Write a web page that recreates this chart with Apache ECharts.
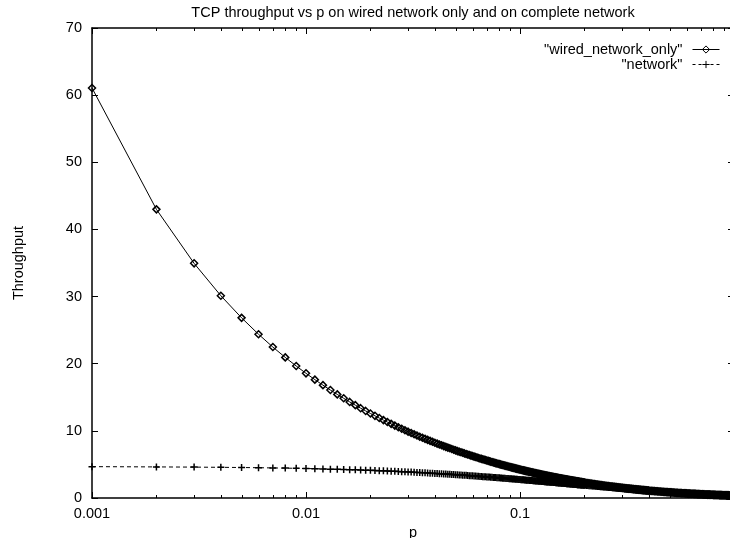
<!DOCTYPE html>
<html>
<head>
<meta charset="utf-8">
<script src="https://cdn.jsdelivr.net/npm/echarts@6/dist/echarts.min.js"></script>
<style>
html,body{margin:0;padding:0;background:#fff;}
#chart{width:730px;height:538px;}
</style>
</head>
<body>
<div id="chart"></div>
<script>
// ---- data ----
const pValues = [
0.001,0.002,0.003,0.004,0.005,0.006,0.007,0.008,0.009,0.010,
0.011,0.012,0.013,0.014,0.015,0.016,0.017,0.018,0.019,0.020,
0.021,0.022,0.023,0.024,0.025,0.026,0.027,0.028,0.029,0.030,
0.031,0.032,0.033,0.034,0.035,0.036,0.037,0.038,0.039,0.040,
0.041,0.042,0.043,0.044,0.045,0.046,0.047,0.048,0.049,0.050,
0.051,0.052,0.053,0.054,0.055,0.056,0.057,0.058,0.059,0.060,
0.061,0.062,0.063,0.064,0.065,0.066,0.067,0.068,0.069,0.070,
0.071,0.072,0.073,0.074,0.075,0.076,0.077,0.078,0.079,0.080,
0.081,0.082,0.083,0.084,0.085,0.086,0.087,0.088,0.089,0.090,
0.091,0.092,0.093,0.094,0.095,0.096,0.097,0.098,0.099,0.100,
0.101,0.102,0.103,0.104,0.105,0.106,0.107,0.108,0.109,0.110,
0.111,0.112,0.113,0.114,0.115,0.116,0.117,0.118,0.119,0.120,
0.121,0.122,0.123,0.124,0.125,0.126,0.127,0.128,0.129,0.130,
0.131,0.132,0.133,0.134,0.135,0.136,0.137,0.138,0.139,0.140,
0.141,0.142,0.143,0.144,0.145,0.146,0.147,0.148,0.149,0.150,
0.151,0.152,0.153,0.154,0.155,0.156,0.157,0.158,0.159,0.160,
0.161,0.162,0.163,0.164,0.165,0.166,0.167,0.168,0.169,0.170,
0.171,0.172,0.173,0.174,0.175,0.176,0.177,0.178,0.179,0.180,
0.181,0.182,0.183,0.184,0.185,0.186,0.187,0.188,0.189,0.190,
0.191,0.192,0.193,0.194,0.195,0.196,0.197,0.198,0.199,0.200,
0.2025,0.2050,0.2075,0.2100,0.2125,0.2150,0.2175,0.2200,0.2225,0.2250,
0.2275,0.2300,0.2325,0.2350,0.2375,0.2400,0.2425,0.2450,0.2475,0.2500,
0.2525,0.2550,0.2575,0.2600,0.2625,0.2650,0.2675,0.2700,0.2725,0.2750,
0.2775,0.2800,0.2825,0.2850,0.2875,0.2900,0.2925,0.2950,0.2975,0.3000,
0.3025,0.3050,0.3075,0.3100,0.3125,0.3150,0.3175,0.3200,0.3225,0.3250,
0.3275,0.3300,0.3325,0.3350,0.3375,0.3400,0.3425,0.3450,0.3475,0.3500,
0.3525,0.3550,0.3575,0.3600,0.3625,0.3650,0.3675,0.3700,0.3725,0.3750,
0.3775,0.3800,0.3825,0.3850,0.3875,0.3900,0.3925,0.3950,0.3975,0.4000,
0.405,0.410,0.415,0.420,0.425,0.430,0.435,0.440,0.445,0.450,
0.455,0.460,0.465,0.470,0.475,0.480,0.485,0.490,0.495,0.500,
0.505,0.510,0.515,0.520,0.525,0.530,0.535,0.540,0.545,0.550,
0.555,0.560,0.565,0.570,0.575,0.580,0.585,0.590,0.595,0.600,
0.605,0.610,0.615,0.620,0.625,0.630,0.635,0.640,0.645,0.650,
0.655,0.660,0.665,0.670,0.675,0.680,0.685,0.690,0.695,0.700,
0.705,0.710,0.715,0.720,0.725,0.730,0.735,0.740,0.745,0.750,
0.755,0.760,0.765,0.770,0.775,0.780,0.785,0.790,0.795,0.800,
0.805,0.810,0.815,0.820,0.825,0.830,0.835,0.840,0.845,0.850,
0.855,0.860,0.865,0.870,0.875,0.880,0.885,0.890,0.895,0.900,
0.905,0.910,0.915,0.920,0.925,0.930,0.935,0.940,0.945,0.950,
0.955,0.960,0.965,0.970,0.975,0.980,0.985,0.990,0.995,1.000
];

const wiredOnly = [
61.07,42.99,34.95,30.13,26.83,24.39,22.48,20.94,19.66,18.57,
17.63,16.81,16.08,15.43,14.85,14.31,13.83,13.38,12.97,12.59,
12.24,11.91,11.60,11.31,11.04,10.78,10.54,10.31,10.09,9.88,
9.68,9.49,9.31,9.13,8.97,8.81,8.66,8.51,8.37,8.23,
8.10,7.97,7.85,7.73,7.62,7.50,7.40,7.29,7.19,7.09,
6.99,6.90,6.81,6.73,6.64,6.56,6.48,6.40,6.32,6.25,
6.17,6.10,6.03,5.96,5.89,5.83,5.77,5.71,5.65,5.59,
5.53,5.47,5.41,5.36,5.30,5.25,5.20,5.15,5.10,5.05,
5.00,4.96,4.91,4.87,4.82,4.78,4.74,4.70,4.65,4.61,
4.57,4.53,4.49,4.46,4.42,4.38,4.34,4.31,4.27,4.24,
4.20,4.17,4.14,4.11,4.07,4.04,4.01,3.98,3.95,3.92,
3.89,3.87,3.84,3.81,3.78,3.75,3.72,3.70,3.67,3.65,
3.62,3.60,3.57,3.55,3.52,3.50,3.47,3.45,3.42,3.40,
3.38,3.36,3.33,3.31,3.29,3.27,3.25,3.23,3.21,3.19,
3.17,3.15,3.13,3.11,3.09,3.07,3.05,3.04,3.02,3.00,
2.98,2.96,2.94,2.93,2.91,2.90,2.88,2.86,2.84,2.83,
2.81,2.80,2.78,2.77,2.75,2.74,2.72,2.71,2.69,2.68,
2.66,2.65,2.63,2.62,2.60,2.59,2.57,2.56,2.55,2.54,
2.52,2.51,2.49,2.48,2.47,2.46,2.44,2.43,2.42,2.41,
2.39,2.38,2.37,2.36,2.35,2.34,2.32,2.31,2.30,2.29,
2.27,2.24,2.22,2.19,2.17,2.14,2.12,2.09,2.07,2.04,
2.02,2.00,1.98,1.95,1.93,1.91,1.89,1.87,1.85,1.83,
1.81,1.79,1.78,1.76,1.74,1.72,1.71,1.69,1.68,1.66,
1.65,1.63,1.62,1.60,1.59,1.57,1.56,1.54,1.53,1.51,
1.50,1.48,1.47,1.46,1.45,1.43,1.42,1.41,1.40,1.39,
1.38,1.37,1.36,1.34,1.33,1.32,1.31,1.30,1.29,1.28,
1.27,1.26,1.25,1.24,1.23,1.22,1.21,1.20,1.19,1.18,
1.18,1.17,1.16,1.15,1.14,1.13,1.12,1.11,1.11,1.10,
1.085,1.07,1.055,1.04,1.025,1.01,1.00,0.99,0.975,0.96,
0.95,0.94,0.925,0.91,0.90,0.89,0.88,0.87,0.86,0.85,
0.84,0.83,0.82,0.81,0.80,0.79,0.78,0.77,0.76,0.75,
0.745,0.74,0.73,0.72,0.715,0.71,0.70,0.69,0.685,0.68,
0.67,0.66,0.655,0.65,0.645,0.64,0.635,0.63,0.625,0.62,
0.615,0.61,0.60,0.59,0.585,0.58,0.575,0.57,0.565,0.56,
0.555,0.55,0.545,0.54,0.535,0.53,0.525,0.52,0.515,0.51,
0.51,0.51,0.505,0.50,0.495,0.49,0.485,0.48,0.475,0.47,
0.465,0.46,0.46,0.46,0.455,0.45,0.45,0.45,0.445,0.44,
0.435,0.43,0.425,0.42,0.42,0.42,0.415,0.41,0.41,0.41,
0.405,0.40,0.40,0.40,0.395,0.39,0.39,0.39,0.385,0.38,
0.375,0.37,0.37,0.37,0.365,0.36,0.36,0.36,0.355,0.35
];

const network = [
4.67,4.63,4.60,4.57,4.54,4.51,4.48,4.45,4.42,4.39,
4.36,4.33,4.30,4.28,4.25,4.22,4.20,4.17,4.14,4.12,
4.09,4.07,4.04,4.02,4.00,3.97,3.95,3.92,3.90,3.88,
3.86,3.83,3.81,3.79,3.77,3.75,3.73,3.70,3.68,3.66,
3.64,3.62,3.60,3.58,3.57,3.55,3.53,3.51,3.49,3.47,
3.45,3.44,3.42,3.40,3.38,3.37,3.35,3.33,3.31,3.30,
3.28,3.27,3.25,3.23,3.22,3.20,3.18,3.17,3.15,3.14,
3.12,3.11,3.09,3.08,3.06,3.05,3.04,3.03,3.01,3.00,
2.98,2.97,2.95,2.94,2.93,2.92,2.90,2.89,2.88,2.87,
2.85,2.84,2.83,2.82,2.80,2.79,2.78,2.77,2.75,2.74,
2.73,2.72,2.71,2.70,2.69,2.68,2.66,2.65,2.64,2.63,
2.62,2.61,2.60,2.59,2.58,2.57,2.56,2.55,2.54,2.53,
2.52,2.51,2.50,2.49,2.48,2.47,2.46,2.45,2.44,2.43,
2.42,2.41,2.40,2.40,2.39,2.38,2.37,2.36,2.35,2.34,
2.33,2.33,2.32,2.31,2.30,2.29,2.28,2.27,2.26,2.26,
2.25,2.24,2.23,2.23,2.22,2.21,2.20,2.20,2.19,2.18,
2.17,2.17,2.16,2.15,2.14,2.14,2.13,2.12,2.11,2.11,
2.10,2.09,2.08,2.08,2.07,2.06,2.05,2.05,2.04,2.03,
2.02,2.02,2.01,2.00,1.99,1.99,1.98,1.98,1.97,1.97,
1.96,1.95,1.94,1.94,1.93,1.93,1.92,1.92,1.91,1.90,
1.89,1.87,1.86,1.84,1.83,1.81,1.80,1.79,1.78,1.76,
1.75,1.73,1.72,1.70,1.69,1.68,1.67,1.65,1.64,1.63,
1.62,1.60,1.59,1.58,1.57,1.56,1.55,1.54,1.53,1.52,
1.51,1.50,1.49,1.48,1.47,1.46,1.45,1.44,1.43,1.42,
1.41,1.40,1.39,1.38,1.37,1.36,1.35,1.34,1.33,1.32,
1.32,1.31,1.30,1.29,1.28,1.27,1.26,1.25,1.25,1.24,
1.23,1.22,1.22,1.21,1.20,1.19,1.19,1.18,1.17,1.16,
1.16,1.15,1.14,1.13,1.13,1.12,1.11,1.10,1.10,1.09,
1.075,1.06,1.05,1.04,1.025,1.01,1.00,0.99,0.975,0.96,
0.95,0.94,0.93,0.92,0.91,0.90,0.89,0.88,0.87,0.86,
0.85,0.84,0.83,0.82,0.81,0.80,0.79,0.78,0.77,0.76,
0.755,0.75,0.74,0.73,0.725,0.72,0.71,0.70,0.695,0.69,
0.68,0.67,0.665,0.66,0.65,0.64,0.635,0.63,0.62,0.61,
0.605,0.60,0.595,0.59,0.585,0.58,0.57,0.56,0.555,0.55,
0.545,0.54,0.535,0.53,0.525,0.52,0.515,0.51,0.505,0.50,
0.495,0.49,0.485,0.48,0.475,0.47,0.465,0.46,0.455,0.45,
0.445,0.44,0.435,0.43,0.425,0.42,0.415,0.41,0.405,0.40,
0.40,0.40,0.395,0.39,0.385,0.38,0.375,0.37,0.37,0.37,
0.365,0.36,0.355,0.35,0.345,0.34,0.34,0.34,0.335,0.33,
0.33,0.33,0.325,0.32,0.315,0.31,0.305,0.30,0.30,0.30
];

const seriesNames = ['"wired_network_only"', '"network"'];
const titleText = 'TCP throughput vs p on wired network only and on complete network';
const xName = 'p';
const yName = 'Throughput';
const xRange = [0.001, 1];
const yRange = [0, 70];
const yStep = 10;
const minorTickValues = [
0.002,0.003,0.004,0.005,0.006,0.007,0.008,0.009,
0.02,0.03,0.04,0.05,0.06,0.07,0.08,0.09,
0.2,0.3,0.4,0.5,0.6,0.7,0.8,0.9
];

// ---- chart ----
const FONT = '"Liberation Sans", Arial, Helvetica, sans-serif';
const FS = 14.5;
const chart = echarts.init(document.getElementById('chart'), null, {renderer: 'canvas'});

const pairs = (ys) => pValues.map((p, i) => [p, ys[i]]);
const hollowMark = {color: 'rgba(0,0,0,0)', borderColor: '#000', borderWidth: 1.5};
const hollowLegend = {color: 'rgba(0,0,0,0)', borderColor: '#000', borderWidth: 1};

const baseX = {
  type: 'log', logBase: 10, min: xRange[0], max: xRange[1],
  axisLine: {show: true, onZero: false, lineStyle: {color: '#000', width: 1.5}},
  axisTick: {show: true, inside: true, length: 6, lineStyle: {color: '#000', width: 1}},
  splitLine: {show: false}, minorTick: {show: false}, minorSplitLine: {show: false}
};
const baseY = {
  type: 'value', min: yRange[0], max: yRange[1], interval: yStep,
  axisLine: {show: true, onZero: false, lineStyle: {color: '#000', width: 1.5}},
  axisTick: {show: true, inside: true, length: 6, lineStyle: {color: '#000', width: 1}},
  splitLine: {show: false}
};

chart.setOption({
  animation: false,
  backgroundColor: '#fff',
  textStyle: {fontFamily: FONT},
  title: {
    text: titleText, left: 413, top: 5, textAlign: 'center', padding: 0,
    textStyle: {fontFamily: FONT, fontSize: FS, fontWeight: 'normal', color: '#000'}
  },
  legend: {
    orient: 'vertical', right: 10, top: 42, align: 'right', padding: 0,
    itemWidth: 27, itemHeight: 9, itemGap: 0, selectedMode: false,
    data: [
      {name: seriesNames[0], itemStyle: hollowLegend, lineStyle: {color: '#000', width: 1, type: 'solid'}},
      {name: seriesNames[1], itemStyle: hollowLegend, lineStyle: {color: '#000', width: 1, type: [3, 3]}}
    ],
    textStyle: {fontFamily: FONT, fontSize: FS, color: '#000', lineHeight: 14, padding: [0, 5, 0, 0]}
  },
  grid: {left: 92, right: -4, top: 28, bottom: 40, containLabel: false, outerBoundsMode: 'none'},
  xAxis: [
    Object.assign({}, baseX, {
      position: 'bottom', name: xName, nameLocation: 'middle', nameGap: 15,
      nameTextStyle: {fontFamily: FONT, fontSize: FS, color: '#000'},
      axisLabel: {show: true, margin: 8, fontFamily: FONT, fontSize: FS, color: '#000',
        formatter: (v) => String(v)}
    }),
    Object.assign({}, baseX, {position: 'top', axisLabel: {show: false}})
  ],
  yAxis: [
    Object.assign({}, baseY, {
      position: 'left', name: yName, nameLocation: 'middle', nameGap: 66, nameRotate: 90,
      nameTextStyle: {fontFamily: FONT, fontSize: FS, color: '#000'},
      axisLabel: {show: true, margin: 10, fontFamily: FONT, fontSize: FS, color: '#000'}
    }),
    Object.assign({}, baseY, {position: 'right', axisLabel: {show: false}})
  ],
  series: [
    {
      name: seriesNames[0], type: 'line', xAxisIndex: 0, yAxisIndex: 0,
      data: pairs(wiredOnly),
      symbol: 'diamond', symbolSize: 7, showSymbol: true,
      lineStyle: {color: '#000', width: 1},
      itemStyle: hollowMark,
      emphasis: {disabled: true}, z: 3
    },
    {
      name: seriesNames[1], type: 'line', xAxisIndex: 0, yAxisIndex: 0,
      data: pairs(network),
      symbol: 'path://M0,5L10,5M5,0L5,10', symbolSize: 7, showSymbol: true,
      lineStyle: {color: '#000', width: 1, type: [4, 3]},
      itemStyle: hollowMark,
      emphasis: {disabled: true}, z: 4
    },
    {
      name: 'minorTicks', type: 'custom', xAxisIndex: 0, yAxisIndex: 0,
      data: minorTickValues.map(v => [v, yRange[0]]),
      silent: true, z: 5,
      renderItem: function (params, api) {
        const v = api.value(0);
        const b = api.coord([v, yRange[0]]);
        const t = api.coord([v, yRange[1]]);
        const x = Math.round(b[0]) + 0.5;
        return {
          type: 'group',
          children: [
            {type: 'line', shape: {x1: x, y1: b[1], x2: x, y2: b[1] - 3}, style: {stroke: '#000', lineWidth: 1}},
            {type: 'line', shape: {x1: x, y1: t[1], x2: x, y2: t[1] + 3}, style: {stroke: '#000', lineWidth: 1}}
          ]
        };
      }
    }
  ]
});
</script>
</body>
</html>
